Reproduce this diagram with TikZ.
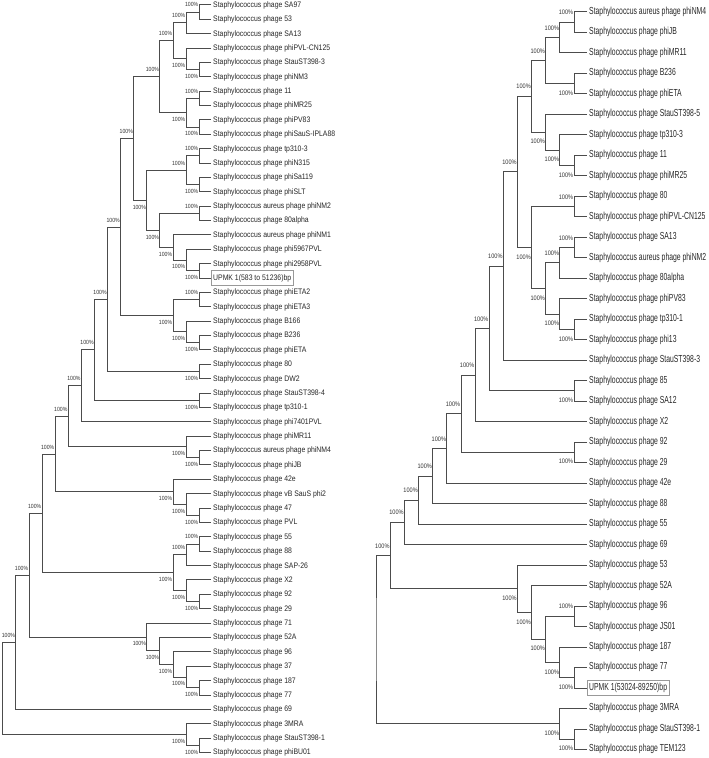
\documentclass[tikz,border=0pt]{standalone}
\usepackage{fontspec}
\newfontfamily\lfont[FakeStretch=0.86]{Liberation Sans}
\newfontfamily\rfont[FakeStretch=0.67]{Liberation Sans}
\usetikzlibrary{calc}
\newcommand\Sph{Staphylococcus phage}
\newcommand\Sau{Staphylococcus aureus phage}
\tikzset{
  br/.style={draw=black!70, line width=0.6pt},
  lleaf/.style={anchor=west, inner xsep=2pt, inner ysep=2.5pt, text height=0.73em,
    text depth=0.21em, text=black!85, font=\lfont\fontsize{8}{8}\selectfont},
  rleaf/.style={lleaf, font=\rfont\fontsize{10.2}{10}\selectfont},
  llab/.style={anchor=east, inner sep=0pt, text=black!80, font=\lfont\fontsize{6}{6}\selectfont},
  rlab/.style={llab, font=\lfont\fontsize{6.5}{6.5}\selectfont},
  upbox/.style={draw=black!40, line width=0.5pt},
}
\begin{document}
\begin{tikzpicture}[x=1pt, y=1pt]
\useasboundingbox (0,0) rectangle (709,-758);

% left tree, leaves
\foreach \t [count=\i] in {\Sph{} SA97, \Sph{} 53, \Sph{} SA13, \Sph{} phiPVL-CN125,
  \Sph{} StauST398-3, \Sph{} phiNM3, \Sph{} 11, \Sph{} phiMR25, \Sph{} phiPV83,
  \Sph{} phiSauS-IPLA88, \Sph{} tp310-3, \Sph{} phiN315, \Sph{} phiSa119, \Sph{} phiSLT,
  \Sau{} phiNM2, \Sph{} 80alpha, \Sau{} phiNM1, \Sph{} phi5967PVL, \Sph{} phi2958PVL,
  UPMK 1(583 to 51236)bp, \Sph{} phiETA2, \Sph{} phiETA3, \Sph{} B166, \Sph{} B236,
  \Sph{} phiETA, \Sph{} 80, \Sph{} DW2, \Sph{} StauST398-4, \Sph{} tp310-1,
  \Sph{} phi7401PVL, \Sph{} phiMR11, \Sau{} phiNM4, \Sph{} phiJB, \Sph{} 42e,
  \Sph{} vB SauS phi2, \Sph{} 47, \Sph{} PVL, \Sph{} 55, \Sph{} 88, \Sph{} SAP-26,
  \Sph{} X2, \Sph{} 92, \Sph{} 29, \Sph{} 71, \Sph{} 52A, \Sph{} 96, \Sph{} 37,
  \Sph{} 187, \Sph{} 77, \Sph{} 69, \Sph{} 3MRA, \Sph{} StauST398-1, \Sph{} phiBU01}
  \node[lleaf] (L\i) at (211, {-4.7-(\i-1)*14.377}) {\t};
\draw[upbox] (L20.south west) rectangle (L20.north east);

% left tree, clades: name/level/upper/lower/label side
\foreach \cl/\k/\a/\b/\s in {lA/1/L1/L2/1, lB/2/lA/L3/1, lC/1/L5/L6/-1, lD/2/L4/lC/-1,
  lE/3/lB/lD/1, lF/1/L7/L8/1, lG/1/L9/L10/-1, lH/2/lF/lG/-1, lI/4/lE/lH/1,
  lLa/1/L11/L12/1, lLb/1/L13/L14/-1, lLc/2/lLa/lLb/1, lM1/1/L15/L16/1,
  lM4/1/L19/L20/-1, lM3/2/L18/lM4/-1, lM2/3/L17/lM3/-1, lM/4/lM1/lM2/-1,
  lK/5/lLc/lM/-1, lJ/6/lI/lK/1, lO1/1/L21/L22/1, lO3/1/L24/L25/-1, lO2/2/L23/lO3/-1,
  lO/3/lO1/lO2/-1, lN/7/lJ/lO/1, lQ1/1/L26/L27/-1, lP/8/lN/lQ1/1, lQ2/1/L28/L29/-1,
  lR/9/lP/lQ2/1, lS/10/lR/L30/1, lU1/1/L32/L33/-1, lU/2/L31/lU1/-1, lT/11/lS/lU/1,
  lW2/1/L36/L37/-1, lW1/2/L35/lW2/-1, lW/3/L34/lW1/-1, lV/12/lT/lW/1,
  lY1a/1/L38/L39/1, lY1/2/lY1a/L40/1, lY2a/1/L42/L43/-1, lY2/2/L41/lY2a/-1,
  lY/3/lY1/lY2/-1, lX/13/lV/lY/1, lAE/1/L48/L49/-1, lAD/2/L47/lAE/-1,
  lAC/3/L46/lAD/-1, lAB/4/L45/lAC/-1, lAA/5/L44/lAB/-1, lZ/14/lX/lAA/1,
  lAF/15/lZ/L50/1, lAG1/1/L52/L53/-1, lAG/2/L51/lAG1/-1}{
  \path let \p1=(\a), \p2=(\b) in coordinate (\cl) at ({212.1-13.09*\k}, {(\y1+\y2)/2});
  \draw[br] (\a) -| (\cl) |- (\b);
  \node[llab] (b\cl) at ([xshift=-0.5pt, yshift=\s*7pt]\cl) {100\%};
}
\path let \p1=(lAF), \p2=(lAG) in coordinate (lroot) at (2.6, {(\y1+\y2)/2});
\draw[br] (lAF) -| (lroot) |- (lAG);

% right tree, leaves
\foreach \t [count=\i] in {\Sau{} phiNM4, \Sph{} phiJB, \Sph{} phiMR11, \Sph{} B236,
  \Sph{} phiETA, \Sph{} StauST398-5, \Sph{} tp310-3, \Sph{} 11, \Sph{} phiMR25,
  \Sph{} 80, \Sph{} phiPVL-CN125, \Sph{} SA13, \Sau{} phiNM2, \Sph{} 80alpha,
  \Sph{} phiPV83, \Sph{} tp310-1, \Sph{} phi13, \Sph{} StauST398-3, \Sph{} 85,
  \Sph{} SA12, \Sph{} X2, \Sph{} 92, \Sph{} 29, \Sph{} 42e, \Sph{} 88, \Sph{} 55,
  \Sph{} 69, \Sph{} 53, \Sph{} 52A, \Sph{} 96, \Sph{} JS01, \Sph{} 187, \Sph{} 77,
  UPMK 1(53024-89250)bp, \Sph{} 3MRA, \Sph{} StauST398-1, \Sph{} TEM123}
  \node[rleaf] (R\i) at (587, {-11.7-(\i-1)*20.49}) {\t};
\draw[upbox] (R34.south west) rectangle (R34.north east);

% right tree, clades
\foreach \cl/\k/\a/\b/\s in {ra1/1/R1/R2/1, ra2/2/ra1/R3/1, ra3/1/R4/R5/-1,
  ra4/3/ra2/ra3/1, rb3/1/R8/R9/-1, rb2/2/R7/rb3/-1, rb1/3/R6/rb2/-1, ra5/4/ra4/rb1/1,
  rc3/1/R10/R11/1, rc7/1/R12/R13/1, rc5/2/rc7/R14/1, rc8/1/R16/R17/-1,
  rc6/2/R15/rc8/-1, rc4/3/rc5/rc6/-1, rc2/4/rc3/rc4/-1, rc1/5/ra5/rc2/1,
  rd1/6/rc1/R18/1, re1/1/R19/R20/-1, rd2/7/rd1/re1/1, rd3/8/rd2/R21/1,
  re2/1/R22/R23/-1, rd4/9/rd3/re2/1, rd5/10/rd4/R24/1, rd6/11/rd5/R25/1,
  rd7/12/rd6/R26/1, rd8/13/rd7/R27/1, rf4/1/R30/R31/1, rf6/1/R33/R34/-1,
  rf5/2/R32/rf6/-1, rf3/3/rf4/rf5/-1, rf2/4/R29/rf3/-1, rf1/5/R28/rf2/-1,
  rd9/14/rd8/rf1/1, rg2/1/R36/R37/-1, rg1/2/R35/rg2/-1}{
  \path let \p1=(\a), \p2=(\b) in coordinate (\cl) at ({588-14.13*\k}, {(\y1+\y2)/2});
  \draw[br] (\a) -| (\cl) |- (\b);
  \node[rlab] (b\cl) at ([xshift=-0.5pt, yshift=\s*9.5pt]\cl) {100\%};
}
\path let \p1=(rd9), \p2=(rg1) in coordinate (rroot) at (376, {(\y1+\y2)/2});
\draw[br] (rd9) -| (rroot) |- (rg1);
\end{tikzpicture}
\end{document}
